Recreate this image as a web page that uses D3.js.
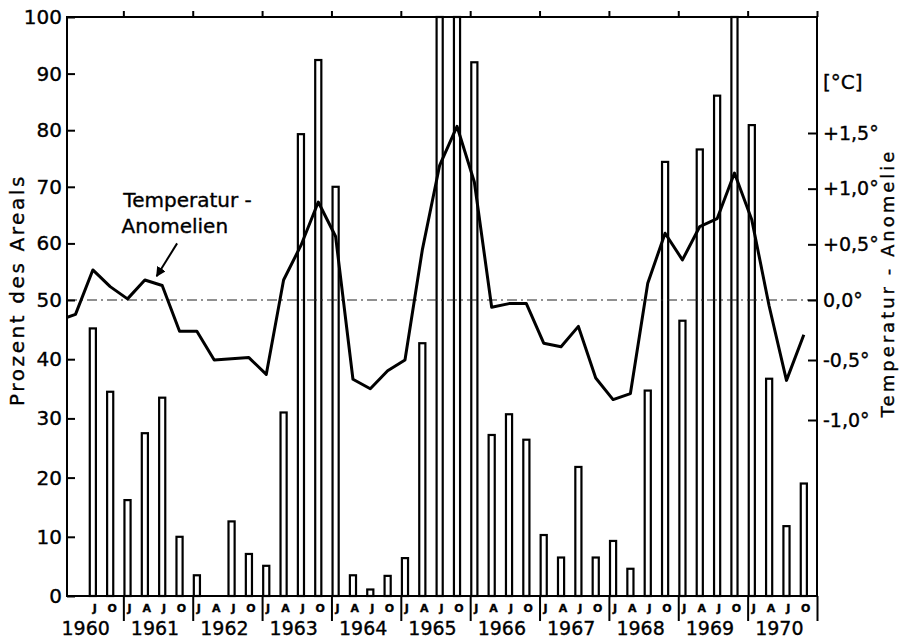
<!DOCTYPE html>
<html>
<head>
<meta charset="utf-8">
<script src="https://cdn.jsdelivr.net/npm/d3@7"></script>
<style>
body { margin: 0; background: #fff; }
text { font-family: "DejaVu Sans", sans-serif; fill: #000; stroke: #000; stroke-width: 0.35px; }
</style>
</head>
<body>
<svg width="909" height="639"></svg>
<script>
// Years on the time axis
var years = [1960, 1961, 1962, 1963, 1964, 1965, 1966, 1967, 1968, 1969, 1970];
var quarterLabels = ['J', 'A', 'J', 'O'];
// first bar is 1960 July (quarter index 2, counted from Jan 1960)
var firstBarQuarter = 2;
// Prozent des Areals, one value per quarter, 1960 Jul .. 1970 Oct (100 = off the top)
var areal = [45.2, 34.5,
    16.2, 27.5, 33.5, 10.0,
    3.5, 0, 12.6, 7.1,
    5.1, 31.0, 79.3, 92.4,
    70.0, 3.5, 1.1, 3.4,
    6.4, 42.7, 100, 100,
    92.0, 27.2, 30.7, 26.4,
    10.3, 6.5, 21.8, 6.5,
    9.3, 4.6, 34.7, 74.4,
    46.5, 76.6, 86.1, 100,
    80.9, 36.7, 11.8, 19.0];
// Temperatur-Anomalie in degC, one value per quarter from 1960 Jan
var anomaly = [-0.17, -0.12, 0.27, 0.12,
    0.01, 0.18, 0.13, -0.26,
    -0.26, -0.50, -0.49, -0.48,
    -0.62, 0.18, 0.49, 0.88,
    0.57, -0.66, -0.74, -0.59,
    -0.50, 0.45, 1.21, 1.56,
    1.06, -0.06, -0.03, -0.03,
    -0.36, -0.39, -0.22, -0.65,
    -0.83, -0.78, 0.15, 0.60,
    0.36, 0.66, 0.73, 1.14,
    0.72, -0.05, -0.67, -0.29];
var pctTicks = [0, 10, 20, 30, 40, 50, 60, 70, 80, 90, 100];
var tempTicks = [-1, -0.5, 0, 0.5, 1, 1.5];

var svg = d3.select('svg');

var plot = {l: 67, r: 817, t: 17, b: 596};

// x in quarters since Jan 1960
var x = d3.scaleLinear().domain([0.75, 44]).range([plot.l, plot.r]);
var yP = d3.scaleLinear().domain([0, 50, 100]).range([plot.b, 300, plot.t]);
var yT = d3.scaleLinear().domain([-1, 0, 1.5]).range([420, 300, 133]);

svg.append('clipPath').attr('id', 'plotClip')
    .append('rect')
    .attr('x', plot.l).attr('y', plot.t)
    .attr('width', plot.r - plot.l).attr('height', plot.b - plot.t);

// bars
var barW = x(0.48) - x(0);
svg.append('g')
    .selectAll('rect')
    .data(areal)
    .enter()
    .append('rect')
    .attr('x', function(d, i) { return x(firstBarQuarter + i) + 1.1; })
    .attr('y', function(d) { return yP(Math.min(d, 100)); })
    .attr('width', barW - 2.2)
    .attr('height', function(d) { return yP(0) - yP(Math.min(d, 100)); })
    .attr('fill', 'none')
    .attr('stroke', '#000')
    .attr('stroke-width', 2.2)
    .style('display', function(d) { return d > 0 ? null : 'none'; });

// zero line of the anomaly
svg.append('line')
    .attr('x1', plot.l).attr('x2', plot.r)
    .attr('y1', yT(0)).attr('y2', yT(0))
    .attr('stroke', '#222')
    .attr('stroke-width', 1.2)
    .attr('stroke-dasharray', '10,4,2,4');

// temperature line
var line = d3.line()
    .x(function(d, i) { return x(i + 0.24); })
    .y(function(d) { return yT(d); });
svg.append('path')
    .datum(anomaly)
    .attr('clip-path', 'url(#plotClip)')
    .attr('d', line)
    .attr('fill', 'none')
    .attr('stroke', '#000')
    .attr('stroke-width', 3)
    .attr('stroke-linejoin', 'round');

// frame
svg.append('rect')
    .attr('x', plot.l).attr('y', plot.t)
    .attr('width', plot.r - plot.l).attr('height', plot.b - plot.t)
    .attr('fill', 'none')
    .attr('stroke', '#000')
    .attr('stroke-width', 2);

var yearBounds = d3.range(4, 45, 4);

// left axis
var leftAxis = svg.append('g')
    .attr('transform', 'translate(' + plot.l + ',0)')
    .call(d3.axisLeft(yP).tickValues(pctTicks).tickSize(-8).tickSizeOuter(0).tickPadding(5));
// right axis
var rightAxis = svg.append('g')
    .attr('transform', 'translate(' + plot.r + ',0)')
    .call(d3.axisRight(yT).tickValues(tempTicks).tickSize(-9).tickSizeOuter(0).tickPadding(6)
        .tickFormat(function(d) {
            var s = d > 0 ? '+' : (d < 0 ? '-' : '');
            return s + Math.abs(d).toFixed(1).replace('.', ',') + '°';
        }));
// top ticks
var topAxis = svg.append('g')
    .attr('transform', 'translate(0,' + plot.t + ')')
    .call(d3.axisTop(x).tickValues(yearBounds).tickSize(6).tickSizeOuter(0).tickFormat(''));
// bottom ticks
var bottomAxis = svg.append('g')
    .attr('transform', 'translate(0,' + plot.b + ')')
    .call(d3.axisBottom(x).tickValues(yearBounds).tickSize(25).tickSizeOuter(0).tickFormat(''));

[leftAxis, rightAxis, topAxis, bottomAxis].forEach(function(g) {
    g.select('.domain').remove();
    g.selectAll('line').attr('stroke', '#000').attr('stroke-width', 2);
    g.selectAll('text').style('font-family', '"DejaVu Sans", sans-serif').attr('fill', '#000');
});
leftAxis.selectAll('text').style('font-size', '20px');
rightAxis.selectAll('text').style('font-size', '19px');

// quarter letters and years
var quarterData = [];
years.forEach(function(yr, i) {
    quarterLabels.forEach(function(lbl, k) {
        var q = i * 4 + k;
        if (q >= firstBarQuarter) quarterData.push({q: q, label: lbl});
    });
});
svg.append('g')
    .selectAll('text')
    .data(quarterData)
    .enter()
    .append('text')
    .attr('x', function(d) { return x(d.q + 0.35); })
    .attr('y', 612)
    .attr('text-anchor', 'middle')
    .style('font-size', '11px')
    .style('font-weight', 'bold')
    .text(function(d) { return d.label; });

svg.append('g')
    .selectAll('text')
    .data(years)
    .enter()
    .append('text')
    .attr('x', function(d, i) { return x(i * 4 + 2) - 3; })
    .attr('y', 635)
    .attr('text-anchor', 'middle')
    .style('font-size', '19px')
    .text(function(d) { return d; });

// axis titles
svg.append('text')
    .attr('transform', 'translate(24,290) rotate(-90)')
    .attr('text-anchor', 'middle')
    .style('font-size', '20px')
    .style('letter-spacing', '2.6px')
    .text('Prozent des Areals');

svg.append('text')
    .attr('transform', 'translate(894,283) rotate(-90)')
    .attr('text-anchor', 'middle')
    .style('font-size', '18px')
    .style('letter-spacing', '3px')
    .text('Temperatur - Anomelie');

svg.append('text')
    .attr('x', 823).attr('y', 89)
    .style('font-size', '20px')
    .text('[°C]');

// annotation
svg.append('defs').append('marker')
    .attr('id', 'arrow')
    .attr('viewBox', '0 0 10 10')
    .attr('refX', 9).attr('refY', 5)
    .attr('markerWidth', 5).attr('markerHeight', 5)
    .attr('orient', 'auto')
    .append('path')
    .attr('d', 'M0,0 L10,5 L0,10 Z')
    .attr('fill', '#000');

svg.append('text')
    .attr('x', x(4.0)).attr('y', yP(66.5))
    .style('font-size', '20px')
    .text('Temperatur -');
svg.append('text')
    .attr('x', x(3.9)).attr('y', yP(61.8))
    .style('font-size', '20px')
    .text('Anomelien');
svg.append('line')
    .attr('x1', x(7.1)).attr('y1', yP(60))
    .attr('x2', x(5.92)).attr('y2', yP(54.2))
    .attr('stroke', '#000')
    .attr('stroke-width', 2)
    .attr('marker-end', 'url(#arrow)');
</script>
</body>
</html>
